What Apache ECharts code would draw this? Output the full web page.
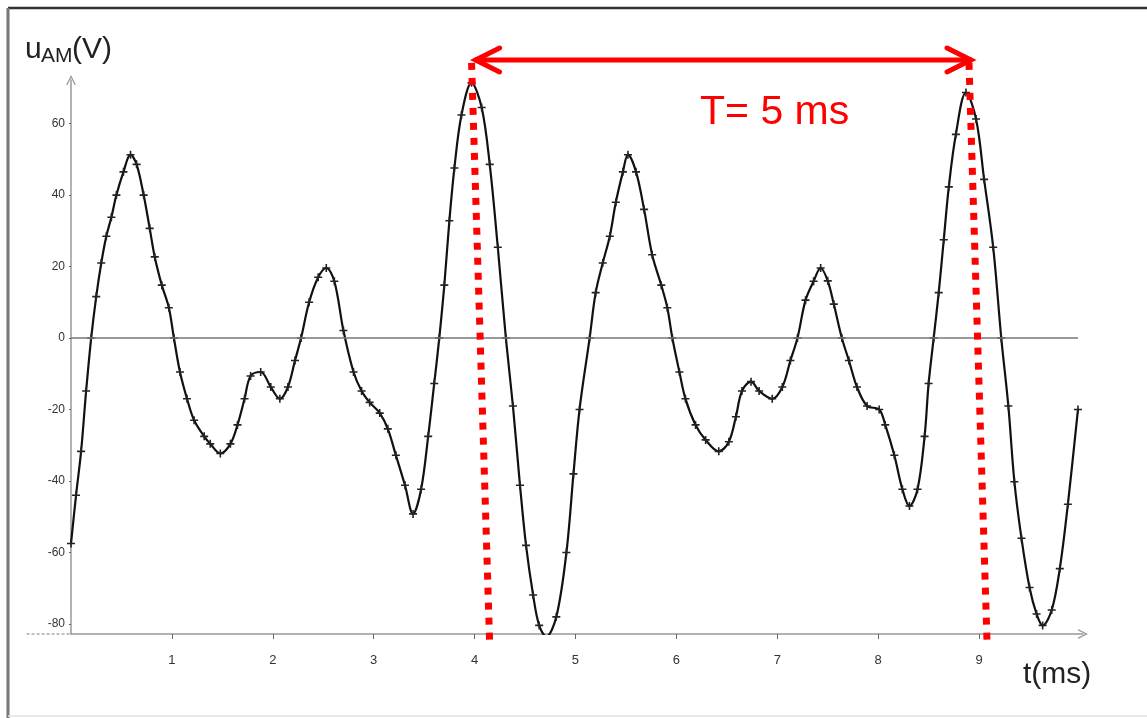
<!DOCTYPE html>
<html>
<head>
<meta charset="utf-8">
<script src="https://cdn.jsdelivr.net/npm/echarts@6/dist/echarts.min.js"></script>
<style>
  html, body { margin: 0; padding: 0; background: #fff; }
  #chart { width: 1147px; height: 718px; }
</style>
</head>
<body>
<div id="chart"></div>
<script>
const timeMs = [
  0.00, 0.05, 0.10, 0.15, 0.20, 0.25, 0.30, 0.35, 0.40, 0.45, 0.52, 0.59, 0.65, 0.72, 0.78, 0.83, 0.90, 0.97,
  1.02, 1.08, 1.15, 1.22, 1.32, 1.38, 1.48, 1.58, 1.65, 1.72, 1.78, 1.88, 1.98, 2.07, 2.15, 2.22, 2.28, 2.36,
  2.45, 2.53, 2.61, 2.70, 2.80, 2.88, 2.96, 3.06, 3.14, 3.22, 3.31, 3.39, 3.47, 3.54, 3.60, 3.65, 3.70, 3.75,
  3.80, 3.87, 3.97, 4.07, 4.15, 4.23, 4.31, 4.38, 4.45, 4.51, 4.58, 4.64, 4.71, 4.81, 4.91, 4.98, 5.04, 5.14,
  5.20, 5.27, 5.34, 5.40, 5.47, 5.52, 5.60, 5.68, 5.76, 5.85, 5.91, 5.96, 6.03, 6.09, 6.19, 6.29, 6.42, 6.52,
  6.59, 6.65, 6.74, 6.82, 6.95, 7.05, 7.13, 7.20, 7.28, 7.36, 7.43, 7.50, 7.56, 7.64, 7.71, 7.79, 7.89, 8.01,
  8.07, 8.16, 8.24, 8.31, 8.39, 8.46, 8.50, 8.55, 8.60, 8.65, 8.70, 8.77, 8.87, 8.97, 9.05, 9.14, 9.22, 9.29,
  9.35, 9.42, 9.50, 9.57, 9.63, 9.72, 9.80, 9.88, 9.98
]
const voltage = [
  -57.5, -44, -31.7, -14.8, 0, 11.6, 21, 28.5, 33.8, 40, 46.5, 51.3, 48.6, 40, 30.7, 22.7, 14.8, 8.5,
  0, -9.5, -17, -23, -27.5, -29.6, -32.3, -29.6, -24.3, -17, -10.6, -9.5, -13.7, -17, -13.7, -6.3, 0, 10,
  17, 19.6, 15.9, 2.1, -9.5, -14.8, -18, -21, -25.4, -32.8, -41.2, -49.2, -42.3, -27.5, -12.7, 0, 14.8, 32.8,
  47.6, 62.4, 71.4, 64.5, 48.6, 25.4, 0, -19, -41.2, -58, -71.9, -80.4, -83.5, -78, -60, -38, -20, 0,
  12.7, 21, 28.5, 38, 46.5, 51.3, 46.5, 36, 23.3, 14.8, 8.5, 0, -9.5, -17, -24.3, -28.5, -31.7, -29,
  -22, -14.8, -12.2, -14.8, -17, -13.7, -6.3, 0, 10.6, 15.9, 19.6, 16, 9.5, 0, -6.3, -13.7, -19, -20,
  -24.3, -32.8, -42.3, -47, -42.3, -27.5, -12.7, 0, 12.7, 27.5, 42.3, 57, 68.7, 61.3, 44.4, 25.4, 0, -19,
  -40.2, -56, -69.8, -77.2, -80.4, -76.1, -64.5, -46.5, -20
]
const xTickLabels = [1, 2, 3, 4, 5, 6, 7, 8, 9]
const yTickLabels = [-80, -60, -40, -20, 0, 20, 40, 60]

// hand-drawn period marks (data coords): top and bottom of each dotted line
const periodTops = [[3.97, 77], [8.90, 77]]
const periodBottoms = [[4.15, -86], [9.08, -86]]
const arrowEnds = [[4.0, 77.8], [8.93, 77.8]]
// x axis is drawn a little to the left of t = 0 in the original
const xAxisLeftStub = [-0.44, 0]

const chart = echarts.init(document.getElementById("chart"))

const plusSymbol = "path://M4,0H6V4H10V6H6V10H4V6H0V4H4Z"
const axisArrow = "path://M0,10L5,0L10,10L8.6,10L5,2.8L1.4,10Z"

const option = {
  animation: false,
  grid: { left: 71, right: 64, top: 80, bottom: 84, containLabel: false },
  xAxis: {
    type: "value",
    min: 0,
    max: 10.03,
    splitLine: { show: false },
    axisLine: {
      onZero: false,
      symbol: ["none", axisArrow],
      symbolSize: [10, 16],
      lineStyle: { color: "#999", width: 1.5 },
    },
    axisTick: { customValues: xTickLabels, length: 5, lineStyle: { color: "#666" } },
    axisLabel: {
      customValues: xTickLabels,
      margin: 20,
      color: "#333",
      fontSize: 13,
      fontFamily: "Liberation Sans",
    },
  },
  yAxis: {
    type: "value",
    min: -82.8,
    max: 72.2,
    splitLine: { show: false },
    axisLine: {
      onZero: false,
      symbol: ["none", axisArrow],
      symbolSize: [10, 16],
      lineStyle: { color: "#999", width: 1.5 },
    },
    axisTick: { customValues: yTickLabels, length: 2, lineStyle: { color: "#666" } },
    axisLabel: {
      customValues: yTickLabels,
      margin: 6,
      color: "#333",
      fontSize: 12,
      fontFamily: "Liberation Sans",
    },
  },
  series: [
    {
      type: "line",
      data: timeMs.map((t, i) => [t, voltage[i]]),
      smooth: 0.35,
      symbol: plusSymbol,
      symbolSize: 8,
      showAllSymbol: true,
      lineStyle: { color: "#111", width: 2.2 },
      itemStyle: { color: "#222" },
      markLine: {
        silent: true,
        symbol: ["none", "none"],
        label: { show: false },
        lineStyle: { color: "#777", width: 1.5, type: "solid" },
        data: [[{ coord: [0, 0] }, { coord: [9.98, 0] }]],
      },
    },
  ],
}

chart.setOption(option)

// overlays placed through the grid's own scale
const px = (p) => chart.convertToPixel({ gridIndex: 0 }, p)
const red = "#ff0000"
const yBottom = chart.convertToPixel({ yAxisIndex: 0 }, -82.8)
const graphics = [
  { type: "line", z: 50, shape: { x1: 8, y1: 8, x2: 1147, y2: 8 }, style: { stroke: "#333", lineWidth: 2.5 } },
  { type: "line", z: 50, shape: { x1: 8, y1: 8, x2: 8, y2: 718 }, style: { stroke: "#777", lineWidth: 3 } },
  { type: "line", z: 50, shape: { x1: 8, y1: 716, x2: 1147, y2: 716 }, style: { stroke: "#e2e2e2", lineWidth: 1.5 } },
  {
    type: "line", z: 5,
    shape: { x1: 71 + xAxisLeftStub[0] * 101, y1: yBottom, x2: 71, y2: yBottom },
    style: { stroke: "#aaa", lineWidth: 1.5, lineDash: [3, 2] },
  },
  { type: "text", z: 50, style: { text: "u", x: 25, y: 50, fontSize: 30, fontFamily: "Liberation Sans", fill: "#222", verticalAlign: "middle" } },
  { type: "text", z: 50, style: { text: "AM", x: 41, y: 56, fontSize: 21, fontFamily: "Liberation Sans", fill: "#222", verticalAlign: "middle" } },
  { type: "text", z: 50, style: { text: "(V)", x: 72, y: 50, fontSize: 30, fontFamily: "Liberation Sans", fill: "#222", verticalAlign: "middle" } },
  { type: "text", z: 50, style: { text: "t(ms)", x: 1023, y: 675, fontSize: 30, fontFamily: "Liberation Sans", fill: "#222", verticalAlign: "middle" } },
  { type: "text", z: 50, style: { text: "T= 5 ms", x: 700, y: 113, fontSize: 41, fontFamily: "Liberation Sans", fill: red, verticalAlign: "middle" } },
]

periodTops.forEach((top, i) => {
  const a = px(top)
  const b = px(periodBottoms[i])
  graphics.push({
    type: "line",
    z: 60,
    shape: { x1: a[0], y1: a[1], x2: b[0], y2: b[1] },
    style: { stroke: red, lineWidth: 7, lineDash: [7, 8], lineCap: "butt" },
  })
})

const l = px(arrowEnds[0])
const r = px(arrowEnds[1])
graphics.push(
  { type: "line", z: 60, shape: { x1: l[0], y1: l[1], x2: r[0], y2: r[1] }, style: { stroke: red, lineWidth: 5 } },
  {
    type: "polyline", z: 60,
    shape: { points: [[l[0] + 25, l[1] - 12], [l[0] + 1, l[1]], [l[0] + 25, l[1] + 12]] },
    style: { stroke: red, lineWidth: 5, lineCap: "round", lineJoin: "miter", fill: "none" },
  },
  {
    type: "polyline", z: 60,
    shape: { points: [[r[0] - 25, r[1] - 12], [r[0] - 1, r[1]], [r[0] - 25, r[1] + 12]] },
    style: { stroke: red, lineWidth: 5, lineCap: "round", lineJoin: "miter", fill: "none" },
  }
)

chart.setOption({ graphic: graphics })
</script>
</body>
</html>
